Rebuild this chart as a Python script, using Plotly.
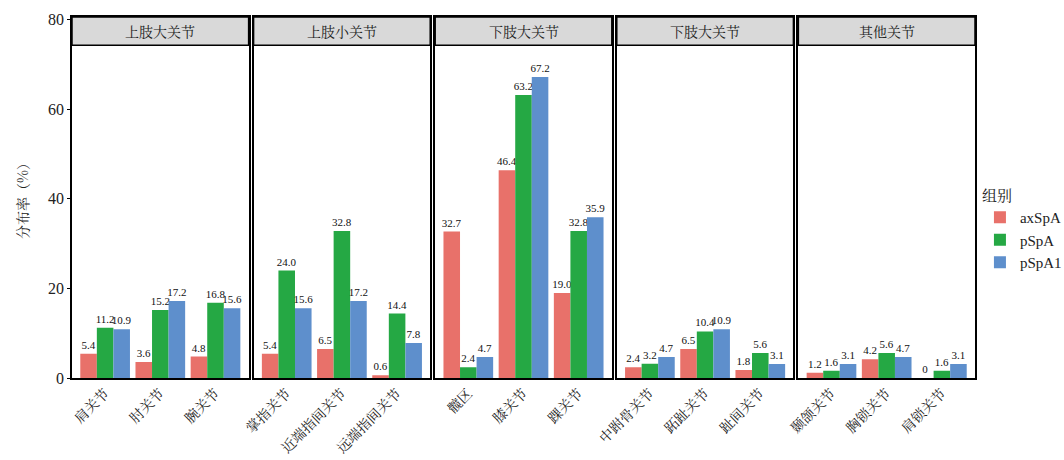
import plotly.graph_objects as go
from plotly.subplots import make_subplots

panels = ["上肢大关节", "上肢小关节", "下肢大关节", "下肢大关节", "其他关节"]
categories = [
    ["肩关节", "肘关节", "腕关节"],
    ["掌指关节", "近端指间关节", "远端指间关节"],
    ["髋区", "膝关节", "踝关节"],
    ["中跗骨关节", "跖趾关节", "趾间关节"],
    ["颞颌关节", "胸锁关节", "肩锁关节"],
]
groups = ["axSpA", "pSpA", "pSpA1"]
axspa = [[5.4, 3.6, 4.8], [5.4, 6.5, 0.6], [32.7, 46.4, 19.0], [2.4, 6.5, 1.8], [1.2, 4.2, 0]]
pspa = [[11.2, 15.2, 16.8], [24.0, 32.8, 14.4], [2.4, 63.2, 32.8], [3.2, 10.4, 5.6], [1.6, 5.6, 1.6]]
pspa1 = [[10.9, 17.2, 15.6], [15.6, 17.2, 7.8], [4.7, 67.2, 35.9], [4.7, 10.9, 3.1], [3.1, 4.7, 3.1]]
series = [axspa, pspa, pspa1]
colors = ["#E8716A", "#25A844", "#5E8FCC"]
y_ticks = [0, 20, 40, 60, 80]

def fmt(v):
    return "0" if v == 0 else f"{v:.1f}"

serif = "'Liberation Serif', 'DejaVu Serif', 'Noto Sans CJK SC', serif"
cjk = "'Noto Serif CJK SC', 'Noto Sans CJK SC', serif"

fig = make_subplots(rows=1, cols=5, shared_yaxes=True, horizontal_spacing=0.0055)

for p in range(5):
    for g in range(3):
        fig.add_trace(
            go.Bar(
                x=categories[p],
                y=series[g][p],
                name=groups[g],
                marker=dict(color=colors[g], line=dict(width=0)),
                text=[fmt(v) for v in series[g][p]],
                textposition="outside",
                constraintext="none",
                textfont=dict(family=serif, size=11, color="#111"),
                cliponaxis=False,
                showlegend=(p == 0),
                legendgroup=groups[g],
                offsetgroup=str(g),
            ),
            row=1, col=p + 1,
        )
    xa = "xaxis" if p == 0 else f"xaxis{p+1}"
    ya = "yaxis" if p == 0 else f"yaxis{p+1}"
    fig.update_layout({
        xa: dict(
            range=[-0.6, 2.6], showline=True, mirror=True, linecolor="black", linewidth=1.5,
            tickangle=-45, tickfont=dict(family=cjk, size=14, color="#222"),
            ticks="", showgrid=False, zeroline=False,
        ),
        ya: dict(
            range=[0, 80.6], showline=True, mirror=True, linecolor="black", linewidth=1.5,
            showgrid=False, zeroline=False, tickvals=y_ticks,
            ticks="outside" if p == 0 else "", ticklen=3, tickcolor="black",
            showticklabels=(p == 0),
            tickfont=dict(family=serif, size=16, color="#222"),
        ),
    })
    xref = "x domain" if p == 0 else f"x{p+1} domain"
    yref = "y domain" if p == 0 else f"y{p+1} domain"
    fig.add_shape(type="rect", xref=xref, yref=yref, x0=0, x1=1, y0=0.922, y1=1,
                  fillcolor="#D9D9D9", line=dict(color="black", width=1.5), layer="below")
    fig.add_annotation(xref=xref, yref=yref, x=0.5, y=0.961, xanchor="center", yanchor="middle",
                       text=panels[p], showarrow=False,
                       font=dict(family=cjk, size=14, color="#222"))

fig.update_yaxes(title=dict(text="分布率（%）", font=dict(family=cjk, size=14, color="#222"), standoff=16), row=1, col=1)

fig.update_layout(
    width=1064, height=460,
    margin=dict(l=72, r=89, t=17, b=82, autoexpand=False),
    plot_bgcolor="white", paper_bgcolor="white",
    barmode="group", bargap=0.1, bargroupgap=0,
    legend=dict(
        title=dict(text="组别", font=dict(family=cjk, size=15, color="#222")),
        font=dict(family=serif, size=15, color="#222"),
        bgcolor="rgba(0,0,0,0)",
        xref="container", yref="container",
        x=0.921, xanchor="left", y=0.5, yanchor="middle",
        tracegroupgap=0, itemwidth=30,
    ),
)

fig.write_html("out.html")
